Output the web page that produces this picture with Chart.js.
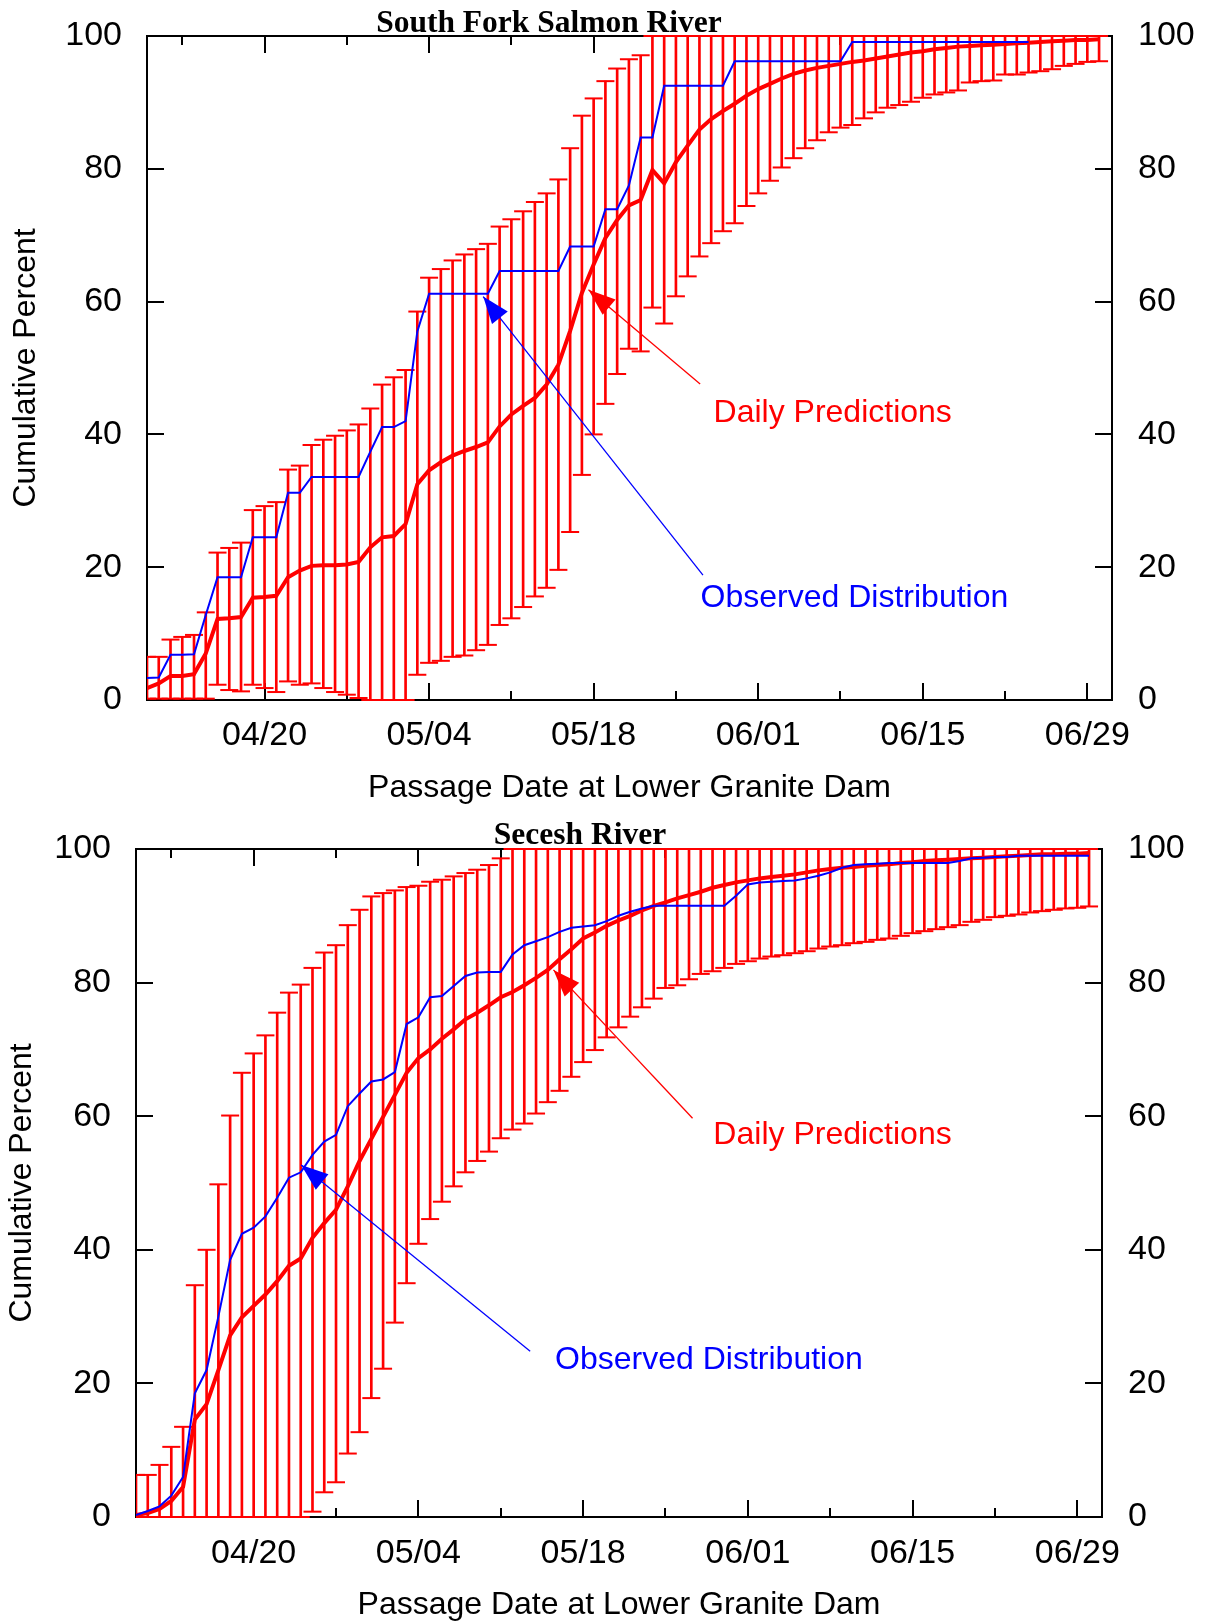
<!DOCTYPE html>
<html>
<head>
<meta charset="utf-8">
<script src="https://cdn.jsdelivr.net/npm/chart.js@4.4.1/dist/chart.umd.min.js"></script>
<style>
  html, body { margin: 0; padding: 0; background: #fff; }
  #page { position: relative; width: 1208px; height: 1621px; }
  canvas { position: absolute; left: 0; }
  #sfChart { top: 0; }
  #secChart { top: 805px; }
</style>
</head>
<body>
<div id="page">
  <canvas id="sfChart" width="1208" height="805"></canvas>
  <canvas id="secChart" width="1208" height="816"></canvas>
</div>
<script>
// day 0 = 04/10, one value per day
const days = [0,1,2,3,4,5,6,7,8,9,10,11,12,13,14,15,16,17,18,19,20,21,22,23,24,25,26,27,28,29,
  30,31,32,33,34,35,36,37,38,39,40,41,42,43,44,45,46,47,48,49,50,51,52,53,54,55,56,57,58,59,
  60,61,62,63,64,65,66,67,68,69,70,71,72,73,74,75,76,77,78,79,80,81];
const tickDays = [3, 10, 17, 24, 31, 38, 45, 52, 59, 66, 73, 80];
const labelDays = [10, 24, 38, 52, 66, 80];
const dateLabels = ["04/20", "05/04", "05/18", "06/01", "06/15", "06/29"];

// South Fork Salmon River
const sfPredicted = [1.8, 2.5, 3.6, 3.6, 3.9, 7.0, 12.2, 12.3, 12.5, 15.4,
  15.5, 15.7, 18.5, 19.5, 20.2, 20.3, 20.3, 20.4, 20.8, 23.0,
  24.5, 24.7, 26.5, 32.5, 34.6, 35.8, 36.8, 37.5, 38.1, 38.8,
  41.2, 43.0, 44.3, 45.5, 47.5, 50.5, 55.6, 61.3, 65.6, 69.6,
  72.3, 74.5, 75.3, 79.8, 77.8, 81.0, 83.5, 85.9, 87.5, 88.7,
  89.8, 91.0, 92.0, 92.8, 93.6, 94.3, 94.8, 95.2, 95.5, 95.8,
  96.1, 96.3, 96.6, 96.9, 97.2, 97.5, 97.7, 98.0, 98.2, 98.4,
  98.5, 98.6, 98.7, 98.8, 98.9, 99.0, 99.1, 99.2, 99.3, 99.4,
  99.4, 99.5];
const sfLower = [0.2, 0.2, 0.2, 0.2, 0.2, 0.2, 2.3, 1.5, 1.3, 2.3,
  1.8, 1.2, 2.8, 2.3, 2.5, 1.8, 1.2, 0.8, 0.3, 0,
  0, 0, 0, 3.8, 5.6, 5.9, 6.5, 6.7, 7.5, 8.3,
  11.3, 12.3, 14.0, 15.6, 16.9, 19.6, 25.3, 33.9, 40.0, 44.6,
  49.1, 52.9, 52.5, 59.1, 56.7, 60.8, 63.8, 66.8, 68.8, 70.6,
  71.8, 74.4, 76.3, 78.2, 80.2, 81.6, 83.1, 84.3, 85.5, 86.2,
  86.6, 87.6, 88.5, 89.2, 89.6, 90.1, 90.7, 91.2, 91.5, 91.8,
  93.0, 93.2, 93.3, 94.2, 94.2, 94.5, 94.7, 95.0, 95.5, 95.8,
  96.1, 96.2];
const sfUpper = [6.5, 6.5, 9.1, 9.5, 9.8, 13.2, 22.2, 22.9, 23.7, 28.6,
  29.2, 29.8, 34.7, 35.3, 38.4, 39.2, 39.8, 40.6, 41.5, 43.9,
  47.5, 48.6, 49.7, 58.5, 63.6, 64.9, 66.2, 67.1, 67.9, 68.7,
  71.3, 72.4, 73.6, 75.0, 76.3, 78.4, 83.1, 88.0, 90.6, 93.2,
  95.1, 96.5, 97.1, 100, 100, 100, 100, 100, 100, 100,
  100, 100, 100, 100, 100, 100, 100, 100, 100, 100,
  100, 100, 100, 100, 100, 100, 100, 100, 100, 100,
  100, 100, 100, 100, 100, 100, 100, 100, 100, 100,
  100, 100];
const sfObserved = [3.3, 3.4, 6.8, 6.8, 6.9, 12.8, 18.5, 18.5, 18.5, 24.5,
  24.5, 24.5, 31.2, 31.2, 33.6, 33.6, 33.6, 33.6, 33.6, 37.4,
  41.1, 41.1, 42.0, 55.5, 61.2, 61.2, 61.2, 61.2, 61.2, 61.2,
  64.6, 64.6, 64.6, 64.6, 64.6, 64.6, 68.3, 68.3, 68.3, 73.9,
  73.9, 77.5, 84.7, 84.7, 92.5, 92.5, 92.5, 92.5, 92.5, 92.5,
  96.2, 96.2, 96.2, 96.2, 96.2, 96.2, 96.2, 96.2, 96.2, 96.2,
  99.1, 99.1, 99.1, 99.1, 99.1, 99.1, 99.1, 99.1, 99.1, 99.1,
  99.1, 99.1, 99.1, 99.1, 99.1, 99.1];

// Secesh River
const secPredicted = [0.3, 0.6, 1.2, 2.4, 4.5, 14.6, 16.9, 22.0, 27.2, 29.9,
  31.6, 33.3, 35.3, 37.6, 38.7, 41.8, 44.0, 46.0, 49.5, 53.3,
  56.6, 59.9, 63.2, 66.5, 68.7, 70.0, 71.6, 73.0, 74.5, 75.5,
  76.6, 77.8, 78.6, 79.6, 80.7, 81.9, 83.5, 85.0, 86.6, 87.5,
  88.5, 89.3, 90.0, 90.8, 91.5, 92.0, 92.6, 93.1, 93.6, 94.2,
  94.6, 95.0, 95.3, 95.6, 95.8, 96.0, 96.2, 96.5, 96.8, 97.0,
  97.2, 97.3, 97.5, 97.6, 97.7, 97.9, 98.0, 98.2, 98.3, 98.4,
  98.5, 98.6, 98.7, 98.8, 98.9, 99.0, 99.1, 99.2, 99.2, 99.3,
  99.3, 99.4];
const secLower = [0, 0, 0, 0, 0, 0, 0, 0, 0, 0,
  0, 0, 0, 0, 0, 0.8, 3.7, 5.2, 9.5, 12.7,
  17.8, 22.2, 29.1, 35.0, 40.9, 44.6, 47.2, 49.5, 51.6, 53.3,
  54.7, 56.7, 58.0, 58.9, 60.4, 62.1, 63.8, 65.9, 68.1, 69.9,
  71.8, 73.3, 74.9, 76.3, 77.6, 79.2, 79.6, 80.5, 81.3, 81.7,
  82.2, 82.8, 83.2, 83.6, 83.9, 84.1, 84.4, 84.7, 85.1, 85.4,
  85.6, 85.9, 86.1, 86.4, 86.6, 87.0, 87.4, 87.7, 88.0, 88.3,
  88.6, 89.1, 89.4, 89.8, 90.0, 90.2, 90.5, 90.7, 90.9, 91.1,
  91.2, 91.4];
const secUpper = [6.3, 6.3, 7.8, 10.5, 13.5, 34.7, 40.0, 49.8, 60.1, 66.5,
  69.4, 72.1, 75.5, 78.5, 79.7, 82.2, 84.5, 85.6, 88.6, 90.9,
  92.9, 93.4, 93.8, 94.3, 94.5, 95.1, 95.4, 95.9, 96.4, 96.9,
  97.6, 98.6, 100, 100, 100, 100, 100, 100, 100, 100,
  100, 100, 100, 100, 100, 100, 100, 100, 100, 100,
  100, 100, 100, 100, 100, 100, 100, 100, 100, 100,
  100, 100, 100, 100, 100, 100, 100, 100, 100, 100,
  100, 100, 100, 100, 100, 100, 100, 100, 100, 100,
  100, 100];
const secObserved = [0.3, 0.9, 1.6, 3.2, 6.0, 18.5, 22.0, 30.0, 38.5, 42.4,
  43.3, 45.0, 47.8, 50.8, 51.6, 54.2, 56.2, 57.2, 61.5, 63.4,
  65.2, 65.5, 66.6, 73.8, 74.8, 77.8, 78.0, 79.5, 81.0, 81.5,
  81.6, 81.6, 84.2, 85.6, 86.2, 86.8, 87.6, 88.2, 88.4, 88.6,
  89.2, 90.0, 90.6, 91.1, 91.5, 91.5, 91.5, 91.5, 91.5, 91.5,
  91.5, 93.0, 94.7, 95.0, 95.1, 95.2, 95.3, 95.6, 96.0, 96.5,
  97.2, 97.6, 97.7, 97.8, 97.9, 97.9, 97.9, 97.9, 97.9, 97.9,
  98.2, 98.6, 98.7, 98.8, 98.8, 99.0, 99.0, 99.0, 99.0, 99.0,
  99.0, 99.0];

const RED = "#ff0000";
const BLUE = "#0000ff";
const X_MAX = 82.1;
const tickFont = { family: "Liberation Sans", size: 34 };
const labelFont = { family: "Liberation Sans", size: 32 };

function points(values) {
  return values.map((v, i) => ({ x: days[i], y: v }));
}

// gnuplot style ticks pointing into the plot box
const inwardTicks = {
  id: "inwardTicks",
  beforeDatasetsDraw(chart) {
    const { ctx, chartArea: a, scales } = chart;
    ctx.save();
    ctx.strokeStyle = "#000";
    ctx.lineWidth = 2;
    ctx.beginPath();
    ["x", "xTop"].forEach(id => {
      const s = scales[id];
      const edge = id === "x" ? a.bottom : a.top;
      const dir = id === "x" ? -1 : 1;
      s.ticks.forEach(t => {
        const len = labelDays.includes(t.value) ? 17 : 9;
        const px = Math.round(s.getPixelForValue(t.value));
        ctx.moveTo(px, edge);
        ctx.lineTo(px, edge + dir * len);
      });
    });
    ["y", "yRight"].forEach(id => {
      const s = scales[id];
      const edge = id === "y" ? a.left : a.right;
      const dir = id === "y" ? 1 : -1;
      s.ticks.forEach(t => {
        const py = Math.round(s.getPixelForValue(t.value));
        ctx.moveTo(edge, py);
        ctx.lineTo(edge + dir * 17, py);
      });
    });
    ctx.stroke();
    ctx.restore();
  }
};

function calloutPlugin(items) {
  return {
    id: "callouts",
    afterDatasetsDraw(chart) {
      const { ctx, scales: { x, y } } = chart;
      ctx.save();
      items.forEach(c => {
        const x0 = x.getPixelForValue(c.from[0]), y0 = y.getPixelForValue(c.from[1]);
        const x1 = x.getPixelForValue(c.to[0]), y1 = y.getPixelForValue(c.to[1]);
        ctx.strokeStyle = c.color;
        ctx.fillStyle = c.color;
        ctx.lineWidth = 1.3;
        ctx.beginPath();
        ctx.moveTo(x0, y0);
        ctx.lineTo(x1, y1);
        ctx.stroke();
        const ang = Math.atan2(y1 - y0, x1 - x0);
        const len = 27, half = 10;
        const bx = x1 - len * Math.cos(ang), by = y1 - len * Math.sin(ang);
        ctx.beginPath();
        ctx.moveTo(x1, y1);
        ctx.lineTo(bx + half * Math.sin(ang), by - half * Math.cos(ang));
        ctx.lineTo(bx - half * Math.sin(ang), by + half * Math.cos(ang));
        ctx.closePath();
        ctx.fill();
        ctx.font = '32px "Liberation Sans"';
        ctx.textBaseline = "alphabetic";
        ctx.textAlign = "left";
        ctx.fillText(c.text, x.getPixelForValue(c.at[0]), y.getPixelForValue(c.at[1]));
      });
      ctx.restore();
    }
  };
}

function titlePlugin(text, cx, baseline) {
  return {
    id: "riverTitle",
    afterDraw(chart) {
      const ctx = chart.ctx;
      ctx.save();
      ctx.font = 'bold 31.5px "Liberation Serif"';
      ctx.fillStyle = "#000";
      ctx.textAlign = "center";
      ctx.textBaseline = "alphabetic";
      ctx.fillText(text, cx, baseline);
      ctx.restore();
    }
  };
}

function createChart(id, cfg) {
  const bars = days.map((d, i) => ({ x: d, y: [cfg.lower[i], cfg.upper[i]] }));
  const capClip = { left: 0, right: 0, top: 2, bottom: 2 };
  const box = { display: true, color: "#000", width: 2 };
  const noGrid = { display: false, drawTicks: false };
  // label gap comes from an undrawn tick length so it does not pad the plot top
  const yGrid = gap => ({ display: false, drawTicks: true, tickLength: gap });
  const setTicks = s => { s.ticks = tickDays.map(v => ({ value: v })); };

  const data = {
    datasets: [
      { type: "line", label: "Observed Distribution", data: points(cfg.observed),
        borderColor: BLUE, borderWidth: 2, pointRadius: 0, tension: 0, order: 0 },
      { type: "line", label: "Daily Predictions", data: points(cfg.predicted),
        borderColor: RED, borderWidth: 4, pointRadius: 0, tension: 0, order: 1 },
      { type: "scatter", data: points(cfg.upper), pointStyle: "line", pointRadius: 9,
        pointBorderColor: RED, pointBorderWidth: 2, clip: capClip, order: 2 },
      { type: "scatter", data: points(cfg.lower), pointStyle: "line", pointRadius: 9,
        pointBorderColor: RED, pointBorderWidth: 2, clip: capClip, order: 2 },
      { type: "bar", data: bars, backgroundColor: RED, barThickness: 2, grouped: false, order: 3 }
    ]
  };

  const config = {
    type: "line",
    data: data,
    options: {
      responsive: false,
      maintainAspectRatio: false,
      devicePixelRatio: 1,
      animation: false,
      events: [],
      layout: { padding: 0 },
      plugins: { legend: { display: false }, tooltip: { enabled: false }, title: { display: false } },
      scales: {
        x: {
          type: "linear", position: "bottom", min: 0, max: X_MAX, offset: false,
          afterBuildTicks: setTicks,
          afterFit: s => { s.height = cfg.bottomH; },
          grid: noGrid, border: box,
          ticks: {
            autoSkip: false, maxRotation: 0, padding: cfg.xTickPad, color: "#000", font: tickFont,
            callback: v => { const i = labelDays.indexOf(v); return i < 0 ? "" : dateLabels[i]; }
          },
          title: { display: true, text: "Passage Date at Lower Granite Dam", color: "#000",
            font: labelFont, padding: { top: 0, bottom: cfg.xTitlePad } }
        },
        xTop: {
          type: "linear", position: "top", min: 0, max: X_MAX, offset: false,
          afterBuildTicks: setTicks,
          afterFit: s => { s.height = cfg.topH; },
          grid: noGrid, border: box, ticks: { display: false }
        },
        y: {
          type: "linear", position: "left", min: 0, max: 100,
          afterFit: s => { s.width = cfg.leftW; },
          grid: yGrid(25), border: box,
          ticks: { stepSize: 20, padding: 0, color: "#000", font: tickFont },
          title: { display: true, text: "Cumulative Percent", color: "#000",
            font: labelFont, padding: { top: cfg.yTitlePad, bottom: 0 } }
        },
        yRight: {
          type: "linear", position: "right", min: 0, max: 100,
          afterFit: s => { s.width = cfg.rightW; },
          grid: yGrid(26), border: box,
          ticks: { stepSize: 20, padding: 0, color: "#000", font: tickFont }
        }
      }
    },
    plugins: [inwardTicks, calloutPlugin(cfg.callouts), titlePlugin(cfg.title, cfg.titleX, cfg.titleY)]
  };
  return new Chart(document.getElementById(id), config);
}

createChart("sfChart", {
  title: "South Fork Salmon River", titleX: 549, titleY: 32,
  predicted: sfPredicted, lower: sfLower, upper: sfUpper, observed: sfObserved,
  topH: 36, bottomH: 105, leftW: 147, rightW: 96,
  xTickPad: 15, xTitlePad: -2, yTitlePad: 7,
  callouts: [
    { text: "Daily Predictions", color: RED, at: [48.2, 41.85], from: [47.06, 47.6], to: [37.56, 61.8] },
    { text: "Observed Distribution", color: BLUE, at: [47.1, 14.0], from: [47.3, 18.8], to: [28.6, 60.75] }
  ]
});

createChart("secChart", {
  title: "Secesh River", titleX: 580, titleY: 39,
  predicted: secPredicted, lower: secLower, upper: secUpper, observed: secObserved,
  topH: 44, bottomH: 104, leftW: 136, rightW: 106,
  xTickPad: 16, xTitlePad: -3, yTitlePad: 3,
  callouts: [
    { text: "Daily Predictions", color: RED, at: [49.07, 55.9], from: [47.3, 59.7], to: [35.48, 81.9] },
    { text: "Observed Distribution", color: BLUE, at: [35.62, 22.2], from: [33.5, 24.8], to: [14.04, 52.7] }
  ]
});
</script>
</body>
</html>
